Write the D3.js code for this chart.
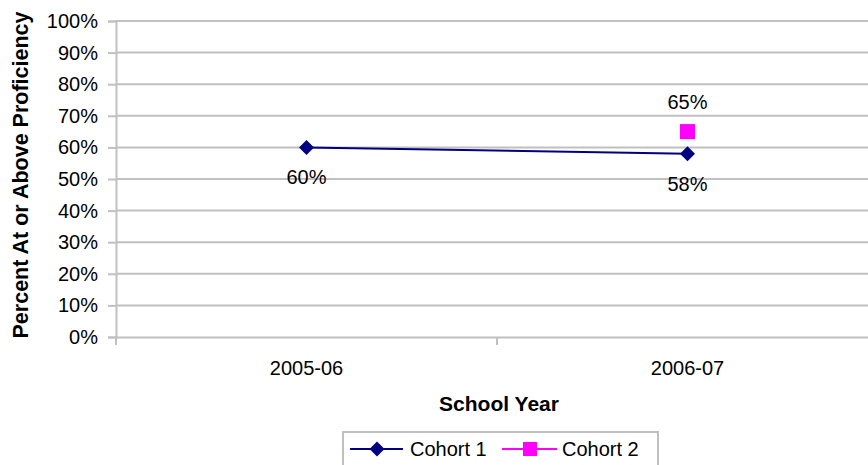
<!DOCTYPE html>
<html><head><meta charset="utf-8">
<script src="https://cdn.jsdelivr.net/npm/d3@7"></script>
<style>body{margin:0;background:#fff;}svg{display:block;font-family:"Liberation Sans",Arial,sans-serif;}</style>
</head><body><svg id="c" width="868" height="465"></svg>
<script>
const categories = ["2005-06", "2006-07"];
const cohort1 = [0.60, 0.58];
const cohort2 = [null, 0.65];
const yTicks = [0,0.1,0.2,0.3,0.4,0.5,0.6,0.7,0.8,0.9,1.0];

const svg = d3.select("#c");
const x = d3.scaleBand().domain(categories).range([116, 878]);
const y = d3.scaleLinear().domain([0,1]).range([337, 21]);
const grid = "#c0c0c0";
const FF = "Liberation Sans, Arial, sans-serif";

// gridlines
svg.append("g").selectAll("line").data(yTicks.slice(1)).join("line")
  .attr("x1",116).attr("x2",878).attr("y1",d=>y(d)).attr("y2",d=>y(d))
  .attr("stroke",grid).attr("stroke-width",2);

// y axis
const ya = svg.append("g").attr("transform","translate(116,0)")
  .call(d3.axisLeft(y).tickValues(yTicks).tickFormat(d3.format(".0%")).tickSize(8).tickPadding(10));
ya.attr("font-size",20).attr("font-family",FF);
ya.select(".domain").attr("stroke",grid).attr("stroke-width",2);
ya.selectAll(".tick line").attr("stroke",grid).attr("stroke-width",2);
ya.selectAll("text").attr("fill","#000");

// x axis
const xa = svg.append("g").attr("transform","translate(0,337)")
  .call(d3.axisBottom(x).tickSize(0).tickPadding(24));
xa.attr("font-size",20).attr("font-family",FF);
xa.select(".domain").attr("stroke",grid).attr("stroke-width",2);
xa.selectAll("text").attr("fill","#000");
// category boundary ticks
svg.append("g").selectAll("line").data([0,1,2]).join("line")
  .attr("x1",i=>116+i*x.step()).attr("x2",i=>116+i*x.step())
  .attr("y1",337).attr("y2",345).attr("stroke",grid).attr("stroke-width",2);

const cx = d=>x(d)+x.bandwidth()/2;
const navy = "#000080", mag = "#ff00ff";

// cohort1 line
const pts1 = categories.map((c,i)=>({c,v:cohort1[i]})).filter(d=>d.v!=null);
svg.append("path").datum(pts1)
  .attr("d", d3.line().x(d=>cx(d.c)).y(d=>y(d.v)))
  .attr("fill","none").attr("stroke",navy).attr("stroke-width",2);
svg.append("g").selectAll("path").data(pts1).join("path")
  .attr("d", d3.symbol(d3.symbolSquare, 112))
  .attr("transform",d=>`translate(${cx(d.c)},${y(d.v)}) rotate(45)`)
  .attr("fill",navy);
svg.append("g").selectAll("text").data(pts1).join("text")
  .attr("x",d=>cx(d.c)).attr("y",d=>y(d.v)+37).attr("text-anchor","middle")
  .attr("font-size",20).text(d=>d3.format(".0%")(d.v));

// cohort2
const pts2 = categories.map((c,i)=>({c,v:cohort2[i]})).filter(d=>d.v!=null);
svg.append("g").selectAll("rect").data(pts2).join("rect")
  .attr("x",d=>cx(d.c)-7.5).attr("y",d=>y(d.v)-7.5).attr("width",15).attr("height",15)
  .attr("fill",mag);
svg.append("g").selectAll("text").data(pts2).join("text")
  .attr("x",d=>cx(d.c)).attr("y",d=>y(d.v)-23).attr("text-anchor","middle")
  .attr("font-size",20).text(d=>d3.format(".0%")(d.v));

// axis titles
svg.append("text").attr("transform","translate(28,175) rotate(-90)")
  .attr("text-anchor","middle").attr("font-size",21.5).attr("font-weight","bold")
  .text("Percent At or Above Proficiency");
svg.append("text").attr("x",499).attr("y",411).attr("text-anchor","middle")
  .attr("font-size",21).attr("font-weight","bold").text("School Year");

// legend
const lg = svg.append("g");
lg.append("rect").attr("x",343).attr("y",432).attr("width",315).attr("height",40)
  .attr("fill","#fff").attr("stroke",grid).attr("stroke-width",2);
lg.append("line").attr("x1",350).attr("x2",403).attr("y1",449).attr("y2",449).attr("stroke",navy).attr("stroke-width",2);
lg.append("path").attr("d",d3.symbol(d3.symbolSquare,112)).attr("transform","translate(377,449) rotate(45)").attr("fill",navy);
lg.append("text").attr("x",410).attr("y",456).attr("font-size",20).text("Cohort 1");
lg.append("line").attr("x1",502).attr("x2",557).attr("y1",449).attr("y2",449).attr("stroke",mag).attr("stroke-width",2);
lg.append("rect").attr("x",523).attr("y",442).attr("width",14).attr("height",14).attr("fill",mag);
lg.append("text").attr("x",562).attr("y",456).attr("font-size",20).text("Cohort 2");
</script></body></html>
